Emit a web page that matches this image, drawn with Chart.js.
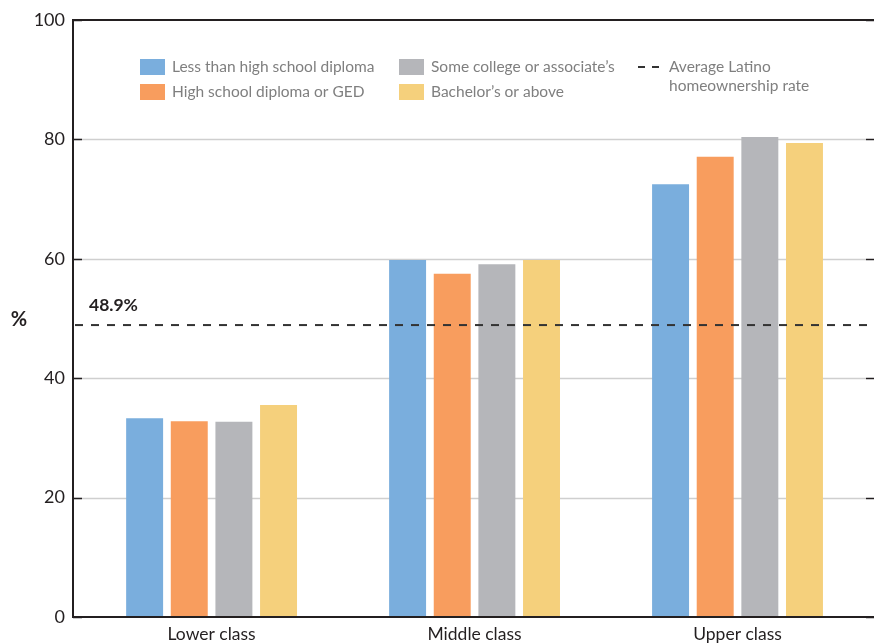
<!DOCTYPE html>
<html>
<head>
<meta charset="utf-8">
<script src="https://cdn.jsdelivr.net/npm/chart.js@4"></script>
<style>
  html, body { margin: 0; padding: 0; background: #fff; }
  #wrap { position: relative; width: 874px; height: 644px; }
</style>
</head>
<body>
<div id="wrap"><canvas id="c" width="874" height="644"></canvas></div>
<script>
// ---- data ----
const categories = ['Lower class', 'Middle class', 'Upper class'];
const seriesLabels = [
  'Less than high school diploma',
  'High school diploma or GED',
  "Some college or associate\u2019s",
  "Bachelor\u2019s or above"
];
const lessThanHighSchool = [33.3, 59.8, 72.5];
const highSchoolOrGED = [32.8, 57.5, 77.1];
const someCollege = [32.7, 59.1, 80.4];
const bachelorsOrAbove = [35.5, 59.8, 79.4];
const averageRate = 48.9;
const averageLabel = ['Average Latino', 'homeownership rate'];
const yTicks = [0, 20, 40, 60, 80, 100];
const yTitle = '%';

// ---- styles ----
const colors = ['#7AAEDD', '#F89D5E', '#B5B6BA', '#F5D07C'];
const FONT = 'Lato, "Open Sans", sans-serif';
const seriesValues = [lessThanHighSchool, highSchoolOrGED, someCollege, bachelorsOrAbove];

const datasets = seriesValues.map((vals, i) => ({
  label: seriesLabels[i],
  data: vals.map((v, j) => ({ x: j, y: v })),
  backgroundColor: colors[i],
  borderWidth: 0,
  categoryPercentage: 0.679,
  barPercentage: 0.828
}));

const decorations = {
  id: 'decorations',
  beforeDatasetsDraw(chart) {
    const { ctx, chartArea: a, scales: { y } } = chart;
    ctx.save();
    ctx.strokeStyle = '#cfcfcf';
    ctx.lineWidth = 1.5;
    yTicks.forEach(t => {
      if (t === 0 || t === 100) return;
      const py = Math.round(y.getPixelForValue(t)) + 0.5;
      ctx.beginPath(); ctx.moveTo(a.left, py); ctx.lineTo(a.right - 8, py); ctx.stroke();
    });
    ctx.restore();
  },
  afterDatasetsDraw(chart) {
    const { ctx, chartArea: a, scales: { y } } = chart;
    ctx.save();
    ctx.strokeStyle = '#231f20';
    ctx.lineWidth = 1.5;
    yTicks.forEach(t => {
      const py = Math.round(y.getPixelForValue(t)) + 0.5;
      ctx.beginPath(); ctx.moveTo(a.left, py); ctx.lineTo(a.left + 9, py); ctx.stroke();
      ctx.beginPath(); ctx.moveTo(a.right - 8, py); ctx.lineTo(a.right, py); ctx.stroke();
    });
    ctx.lineWidth = 2;
    ctx.beginPath();
    ctx.moveTo(a.right, a.top); ctx.lineTo(a.left, a.top); ctx.lineTo(a.left, a.bottom); ctx.lineTo(a.right, a.bottom);
    ctx.stroke();
    // average line
    const ay = y.getPixelForValue(averageRate);
    ctx.setLineDash([8, 8]);
    ctx.lineWidth = 2;
    ctx.strokeStyle = '#333';
    ctx.beginPath(); ctx.moveTo(a.left + 2, ay); ctx.lineTo(a.right, ay); ctx.stroke();
    ctx.setLineDash([]);
    ctx.fillStyle = '#231f20';
    ctx.font = 'bold 17.5px ' + FONT;
    ctx.textAlign = 'left';
    ctx.textBaseline = 'middle';
    ctx.fillText(averageRate.toFixed(1) + '%', 89, ay - 20);
    ctx.font = 'bold 20px ' + FONT;
    ctx.textAlign = 'center';
    ctx.fillText(yTitle, 19, ay - 6);

    // legend
    ctx.font = '15.5px ' + FONT;
    ctx.textAlign = 'left';
    ctx.textBaseline = 'middle';
    const legendCols = [140, 399];
    const legendRows = [67, 92];
    seriesLabels.forEach((lab, i) => {
      const col = legendCols[Math.floor(i / 2)];
      const row = legendRows[i % 2];
      ctx.fillStyle = colors[i];
      ctx.fillRect(col, row - 8, 25, 16);
      ctx.fillStyle = '#7f7f7f';
      ctx.fillText(lab, col + 32, row);
    });
    ctx.strokeStyle = '#333';
    ctx.lineWidth = 2;
    ctx.setLineDash([7, 7]);
    ctx.beginPath(); ctx.moveTo(638, 67); ctx.lineTo(662, 67); ctx.stroke();
    ctx.setLineDash([]);
    ctx.fillStyle = '#7f7f7f';
    ctx.fillText(averageLabel[0], 669, 67);
    ctx.fillText(averageLabel[1], 669, 86);
    ctx.restore();
  }
};

new Chart(document.getElementById('c'), {
  type: 'bar',
  data: { datasets },
  options: {
    responsive: false,
    animation: false,
    events: [],
    layout: { padding: { top: 20, right: 0, left: 0, bottom: 0 } },
    plugins: { legend: { display: false }, tooltip: { enabled: false } },
    scales: {
      x: {
        type: 'linear',
        min: -0.527,
        max: 2.519,
        offset: false,
        grid: { display: false, drawTicks: false },
        border: { display: false },
        ticks: {
          stepSize: 1,
          includeBounds: false,
          autoSkip: false,
          maxRotation: 0,
          padding: 7,
          color: '#231f20',
          font: { family: FONT, size: 17.5 },
          callback: v => (Number.isInteger(v) && categories[v] !== undefined) ? categories[v] : ''
        },
        afterFit(s) { s.height = 27; }
      },
      y: {
        min: 0,
        max: 100,
        grid: { display: false, drawTicks: false },
        border: { display: false },
        ticks: {
          stepSize: 20,
          padding: 8,
          color: '#231f20',
          font: { family: FONT, size: 18 }
        },
        afterFit(s) { s.width = 73; }
      }
    }
  },
  plugins: [decorations]
});
</script>
</body>
</html>
